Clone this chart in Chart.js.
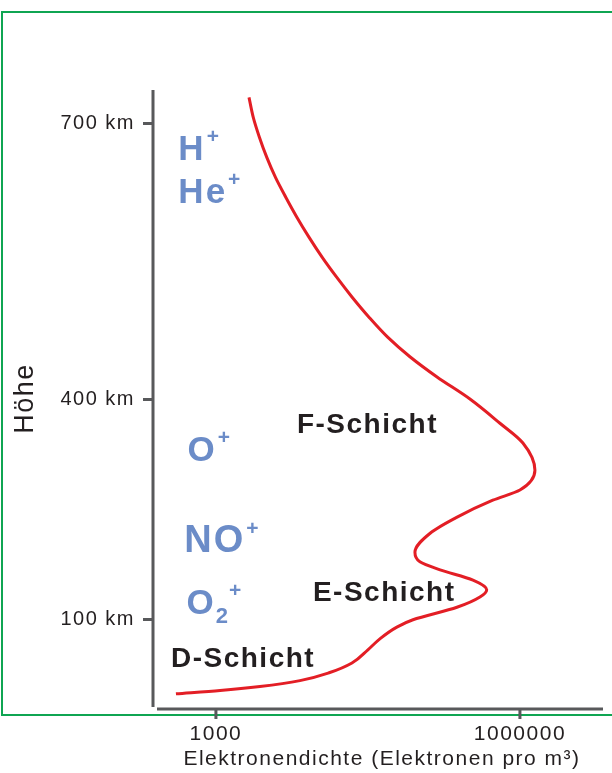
<!DOCTYPE html>
<html>
<head>
<meta charset="utf-8">
<script src="https://cdn.jsdelivr.net/npm/chart.js@4.4.1/dist/chart.umd.min.js"></script>
<style>
  html, body { margin: 0; padding: 0; background: #fff; }
  canvas { display: block; }
</style>
</head>
<body>
<canvas id="chart" width="612" height="773"></canvas>
<script>
// Elektronendichte der Ionosphäre (schematisch)

// Kurve: Elektronendichte (pro m³) und Höhe (km), von oben nach unten
var densities = [2120, 2340, 2680, 3170, 3870, 4860, 6270, 8280, 11200, 15400,
                 22000, 32400, 49800, 82100, 152000, 321000, 635000, 1070000, 1406000, 1000000,
                 540000, 240000, 130000, 92000, 103000, 163000, 344000, 470000, 403000, 239000,
                 88000, 61000, 41500, 31600, 22000, 13300, 6750, 2720, 1100, 403];
var heightsKm = [728, 706, 685, 663, 641, 620, 598, 576, 554, 533,
                 511, 489, 467, 446, 424, 400, 367, 340, 303, 276,
                 262, 239, 217, 191, 178, 167, 153, 140, 130, 116,
                 99, 89, 73, 58, 40, 27, 16, 8, 2.5, -2];

// Achsen
var yTickValues = [100, 400, 700];
var yTickLabels = ['100 km', '400 km', '700 km'];
var xTickValues = [1000, 1000000];
var xTickLabels = ['1000', '1000000'];

// Beschriftungen (Ionen und Schichten), verankert in Datenkoordinaten
var ionNames = ['H', 'He', 'O', 'NO', 'O'];
var ionSub = ['', '', '', '', '2'];
var ionDensity = [426, 426, 524, 487, 513];
var ionHeight = [660, 613, 315, 191, 107];
var layerNames = ['F-Schicht', 'E-Schicht', 'D-Schicht'];
var layerDensity = [6300, 9060, 360];
var layerHeight = [354, 124, 34];

var red = '#e31e25';
var blue = '#6b8cc8';
var ink = '#231f20';
var gray = '#58595b';
var green = '#0fa552';
var family = "'Liberation Sans', Arial, sans-serif";

// Die Höhenachse ist oberhalb von 400 km gestreckt gezeichnet
var yBreak = 400, yStretch = 1.2545;
function toAxis(v) { return v <= yBreak ? v : yBreak + (v - yBreak) * yStretch; }
function fromAxis(s) { return s <= yBreak ? s : yBreak + (s - yBreak) / yStretch; }

class StretchScale extends Chart.LinearScale {
  getPixelForValue(value) {
    var a = toAxis(this.min), b = toAxis(this.max);
    return this.getPixelForDecimal((toAxis(value) - a) / (b - a));
  }
  getValueForPixel(pixel) {
    var a = toAxis(this.min), b = toAxis(this.max);
    return fromAxis(a + this.getDecimalForPixel(pixel) * (b - a));
  }
}
StretchScale.id = 'stretch';
StretchScale.defaults = Object.assign({}, Chart.LinearScale.defaults);
Chart.register(StretchScale);

Chart.defaults.font.family = family;
Chart.defaults.color = ink;

var frameAndAxes = {
  id: 'frameAndAxes',
  beforeDraw: function(chart) {
    var ctx = chart.ctx;
    ctx.save();
    ctx.strokeStyle = green;
    ctx.lineWidth = 2;
    ctx.beginPath();
    ctx.moveTo(chart.width, 12);
    ctx.lineTo(2, 12);
    ctx.lineTo(2, 715);
    ctx.lineTo(chart.width, 715);
    ctx.stroke();
    ctx.restore();
    ctx.letterSpacing = '1.5px';
  },
  afterDraw: function(chart) {
    var ctx = chart.ctx, a = chart.chartArea, x = chart.scales.x;
    var ay = a.bottom + 2;
    ctx.save();
    ctx.strokeStyle = gray;
    ctx.lineWidth = 3;
    ctx.beginPath();
    ctx.moveTo(a.left + 1, a.top);
    ctx.lineTo(a.left + 1, a.bottom);
    ctx.moveTo(a.left + 5, ay);
    ctx.lineTo(a.right - 9, ay);
    x.ticks.forEach(function(t) {
      var px = x.getPixelForValue(t.value);
      ctx.moveTo(px, ay);
      ctx.lineTo(px, ay + 10);
    });
    ctx.stroke();
    ctx.restore();
  }
};

var labelsPlugin = {
  id: 'labels',
  afterDatasetsDraw: function(chart) {
    var ctx = chart.ctx, x = chart.scales.x, y = chart.scales.y;
    ctx.save();
    ctx.textAlign = 'left';
    ctx.textBaseline = 'alphabetic';

    // Ionen
    ctx.fillStyle = blue;
    ctx.letterSpacing = '2px';
    ionNames.forEach(function(name, i) {
      var px = x.getPixelForValue(ionDensity[i]);
      var py = y.getPixelForValue(ionHeight[i]);
      var size = name === 'NO' ? 38 : 35;
      ctx.font = 'bold ' + size + 'px ' + family;
      ctx.fillText(name, px, py);
      var cx = px + ctx.measureText(name).width;
      if (ionSub[i]) {
        ctx.font = 'bold 22px ' + family;
        ctx.fillText(ionSub[i], cx, py + 9);
        cx += ctx.measureText(ionSub[i]).width - 1;
      } else {
        cx += 1;
      }
      ctx.font = 'bold 21px ' + family;
      ctx.fillText('+', cx, py - 17);
    });

    // Schichten
    ctx.fillStyle = ink;
    ctx.letterSpacing = '1.5px';
    ctx.font = 'bold 28px ' + family;
    layerNames.forEach(function(name, i) {
      ctx.fillText(name, x.getPixelForValue(layerDensity[i]), y.getPixelForValue(layerHeight[i]));
    });
    ctx.restore();
  }
};

new Chart(document.getElementById('chart'), {
  type: 'line',
  data: {
    datasets: [{
      data: densities.map(function(d, i) { return {x: d, y: heightsKm[i]}; }),
      borderColor: red,
      borderWidth: 3,
      pointRadius: 0,
      cubicInterpolationMode: 'monotone',
      fill: false
    }]
  },
  options: {
    indexAxis: 'y',
    responsive: false,
    animation: false,
    devicePixelRatio: 1,
    layout: { padding: { left: 4, top: 90, right: 0, bottom: 0 } },
    plugins: {
      legend: { display: false },
      tooltip: { enabled: false }
    },
    scales: {
      x: {
        type: 'logarithmic',
        bounds: 'data',
        min: 234,
        max: 8100000,
        afterBuildTicks: function(scale) {
          scale.ticks = xTickValues.map(function(v) { return {value: v}; });
        },
        afterFit: function(scale) { scale.height = 66; },
        grid: { display: false, drawTicks: true, tickLength: 12 },
        border: { display: false },
        ticks: {
          autoSkip: false,
          maxRotation: 0,
          padding: 3,
          color: ink,
          font: { size: 21 },
          callback: function(value, index) { return xTickLabels[index]; }
        },
        title: {
          display: true,
          text: 'Elektronendichte (Elektronen pro m³)',
          color: ink,
          font: { size: 21 },
          padding: { top: 0, bottom: 1 }
        }
      },
      y: {
        type: 'stretch',
        bounds: 'data',
        min: -20,
        max: 736,
        afterBuildTicks: function(scale) {
          scale.ticks = yTickValues.map(function(v) { return {value: v}; });
        },
        afterFit: function(scale) { scale.width = 148; },
        grid: {
          display: true,
          drawOnChartArea: false,
          drawTicks: true,
          tickLength: 9,
          tickWidth: 3,
          tickColor: gray
        },
        border: { display: false },
        ticks: {
          padding: 8,
          color: ink,
          font: { size: 20 },
          callback: function(value, index) { return yTickLabels[index]; }
        },
        title: {
          display: true,
          text: 'Höhe',
          color: ink,
          font: { size: 27 },
          padding: { top: 5, bottom: 0 }
        }
      }
    }
  },
  plugins: [frameAndAxes, labelsPlugin]
});
</script>
</body>
</html>
